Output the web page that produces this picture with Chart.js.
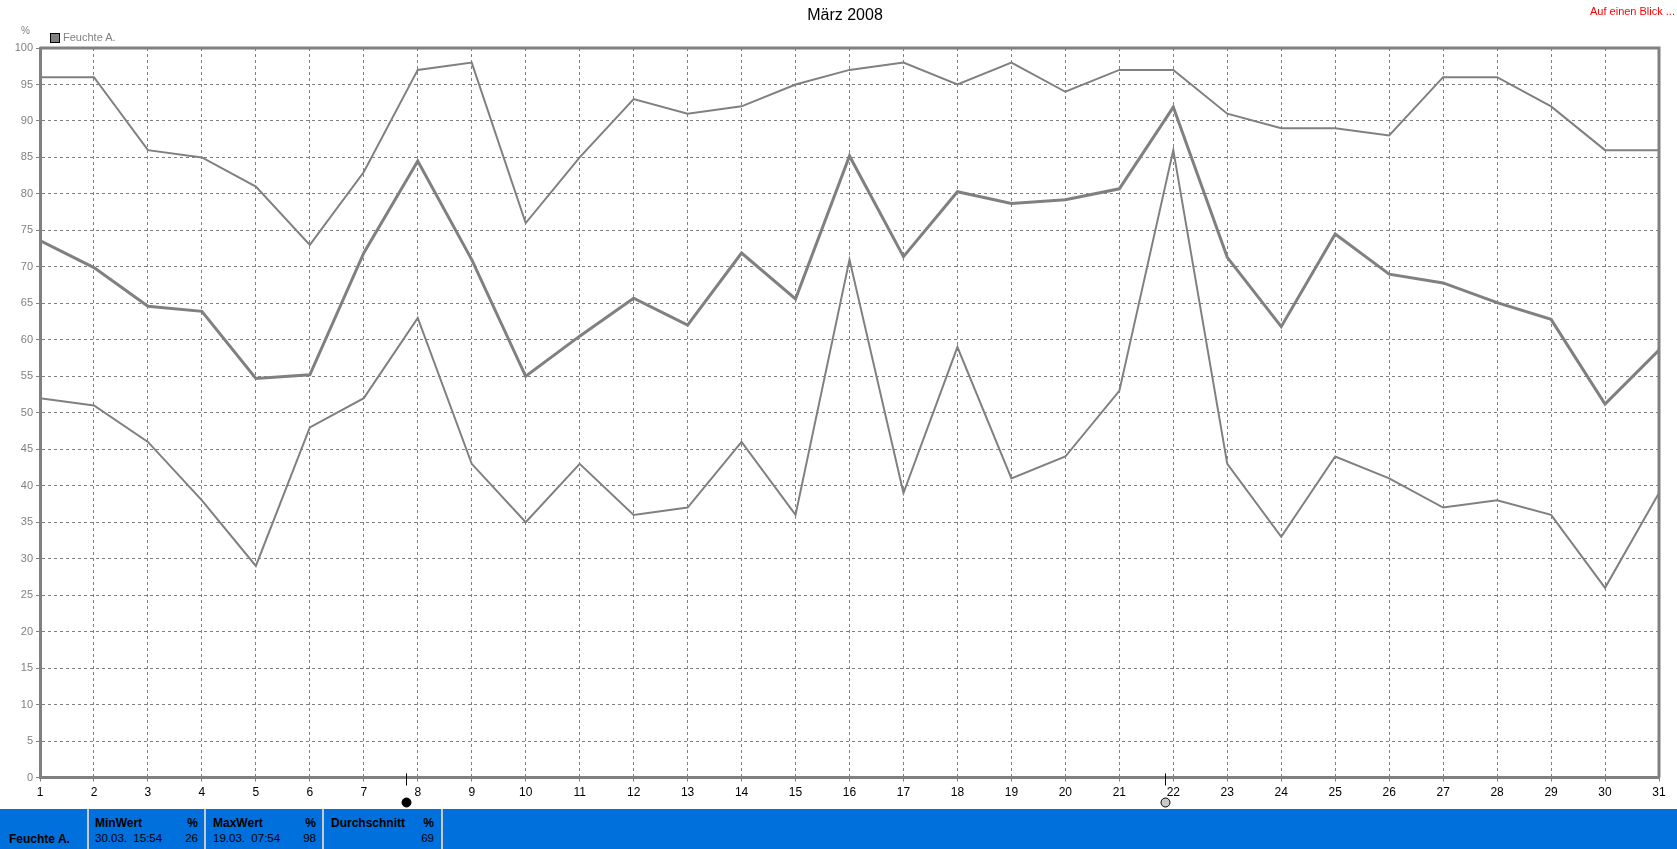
<!DOCTYPE html>
<html>
<head>
<meta charset="utf-8">
<script src="https://cdn.jsdelivr.net/npm/chart.js@4"></script>
<style>
html,body{margin:0;padding:0;background:#fff;width:1677px;height:849px;overflow:hidden;font-family:"Liberation Sans",Arial,sans-serif;}
#wrap{position:relative;width:1677px;height:849px;}
#c{position:absolute;left:0;top:0;}
.abs{position:absolute;white-space:pre;line-height:1;}
#title{left:745px;width:200px;top:7px;text-align:center;font-size:16px;color:#000;}
#blick{right:2px;top:6px;font-size:11px;color:#ff0000;}
#unit{left:21px;top:26px;font-size:10px;color:#808080;}
#legbox{left:50px;top:33px;width:8px;height:8px;background:#808080;border:1px solid #000;}
#legtxt{left:63px;top:32px;font-size:11px;color:#808080;}
#panel{position:absolute;left:0;top:809px;width:1677px;height:40px;background:#0070dd;}
.sep{position:absolute;top:0;width:2px;height:40px;background:#c8c8c8;}
.b{font-weight:bold;font-size:12px;color:#000;}
.r{font-size:11.5px;color:#000;}
</style>
</head>
<body>
<div id="wrap">
<canvas id="c" width="1677" height="849"></canvas>
<div id="title" class="abs">März 2008</div>
<div id="blick" class="abs">Auf einen Blick ...</div>
<div id="unit" class="abs">%</div>
<div id="legbox" class="abs"></div>
<div id="legtxt" class="abs">Feuchte A.</div>
<div id="panel">
  <div class="sep" style="left:87px"></div>
  <div class="sep" style="left:204px"></div>
  <div class="sep" style="left:322px"></div>
  <div class="sep" style="left:441px"></div>
  <div class="abs b" style="left:9px;top:24px">Feuchte A.</div>
  <div class="abs b" style="left:95px;top:8px">MinWert</div>
  <div class="abs b" style="left:180px;width:18px;text-align:right;top:8px">%</div>
  <div class="abs r" style="left:95px;top:24px">30.03.  15:54</div>
  <div class="abs r" style="left:160px;width:38px;text-align:right;top:24px">26</div>
  <div class="abs b" style="left:213px;top:8px">MaxWert</div>
  <div class="abs b" style="left:298px;width:18px;text-align:right;top:8px">%</div>
  <div class="abs r" style="left:213px;top:24px">19.03.  07:54</div>
  <div class="abs r" style="left:278px;width:38px;text-align:right;top:24px">98</div>
  <div class="abs b" style="left:331px;top:8px">Durchschnitt</div>
  <div class="abs b" style="left:416px;width:18px;text-align:right;top:8px">%</div>
  <div class="abs r" style="left:396px;width:38px;text-align:right;top:24px">69</div>
</div>
</div>
<script>
const days = [1,2,3,4,5,6,7,8,9,10,11,12,13,14,15,16,17,18,19,20,21,22,23,24,25,26,27,28,29,30,31];
const maxValues = [96,96,86,85,81,73,83,97,98,76,85,93,91,92,95,97,98,95,98,94,97,97,91,89,89,88,96,96,92,86,86];
const avgValues = [73.6,69.9,64.6,63.9,54.7,55.2,71.9,84.5,71.0,55.0,60.5,65.7,62.0,71.9,65.6,85.2,71.4,80.3,78.7,79.2,80.7,91.9,71.3,61.8,74.5,69.0,67.8,65.1,62.8,51.2,58.6];
const minValues = [52,51,46,38,29,48,52,63,43,35,43,36,37,46,36,71,39,59,41,44,53,86,43,33,44,41,37,38,36,26,39];
const moonDays = [7.78, 21.84];
const moonTypes = ['new', 'full'];
const yMin = 0, yMax = 100, yStep = 5;

const GRAY = '#808080';
const toPts = arr => days.map((d, i) => ({x: d, y: arr[i]}));

const framePlugin = {
  id: 'frame',
  afterDatasetsDraw(chart) {
    const {ctx, chartArea: a} = chart;
    ctx.save();
    ctx.strokeStyle = GRAY;
    ctx.lineWidth = 3;
    ctx.beginPath();
    ctx.moveTo(a.left, a.top);
    ctx.lineTo(a.right, a.top);
    ctx.lineTo(a.right, a.bottom);
    ctx.stroke();
    ctx.restore();
  },
  afterDraw(chart) {
    const {ctx, chartArea: a, scales} = chart;
    ctx.save();
    moonDays.forEach((d, i) => {
      const x = Math.round(scales.x.getPixelForValue(d)) + 0.5;
      ctx.strokeStyle = '#000';
      ctx.lineWidth = 1;
      ctx.beginPath();
      ctx.moveTo(x, a.bottom - 4);
      ctx.lineTo(x, a.bottom + 8);
      ctx.stroke();
      const cy = a.bottom + 25;
      ctx.beginPath();
      ctx.arc(x, cy, 4.5, 0, Math.PI * 2);
      ctx.fillStyle = moonTypes[i] === 'new' ? '#000' : '#c8c8c8';
      ctx.fill();
      ctx.strokeStyle = '#000';
      ctx.lineWidth = 1;
      ctx.stroke();
    });
    ctx.restore();
  }
};

new Chart(document.getElementById('c'), {
  type: 'line',
  data: {
    datasets: [
      {label: 'Max', data: toPts(maxValues), borderColor: GRAY, borderWidth: 2, pointRadius: 0, tension: 0, fill: false},
      {label: 'Feuchte A.', data: toPts(avgValues), borderColor: GRAY, borderWidth: 3, pointRadius: 0, tension: 0, fill: false},
      {label: 'Min', data: toPts(minValues), borderColor: GRAY, borderWidth: 2, pointRadius: 0, tension: 0, fill: false}
    ]
  },
  options: {
    responsive: false,
    animation: false,
    events: [],
    layout: {padding: {left: 0, right: 18, top: 48, bottom: 41.5}},
    plugins: {legend: {display: false}, title: {display: false}, tooltip: {enabled: false}},
    scales: {
      x: {
        type: 'linear', min: days[0], max: days[days.length - 1],
        afterFit(s) { s.height = 30; },
        ticks: {stepSize: 1, color: '#000', font: {family: '"Liberation Sans", Arial, sans-serif', size: 12}, padding: 4, maxRotation: 0, autoSkip: false},
        grid: {color: GRAY, lineWidth: 1, tickLength: 4, tickColor: GRAY, tickWidth: 1},
        border: {display: true, color: GRAY, width: 3, dash: [3, 3]}
      },
      y: {
        type: 'linear', min: yMin, max: yMax,
        afterFit(s) { s.width = 40; },
        ticks: {stepSize: yStep, color: GRAY, font: {family: '"Liberation Sans", Arial, sans-serif', size: 11}, padding: 3},
        grid: {color: GRAY, lineWidth: 1, tickLength: 4, tickColor: GRAY, tickWidth: 1},
        border: {display: true, color: GRAY, width: 3, dash: [3, 3]}
      }
    }
  },
  plugins: [framePlugin]
});
</script>
</body>
</html>
